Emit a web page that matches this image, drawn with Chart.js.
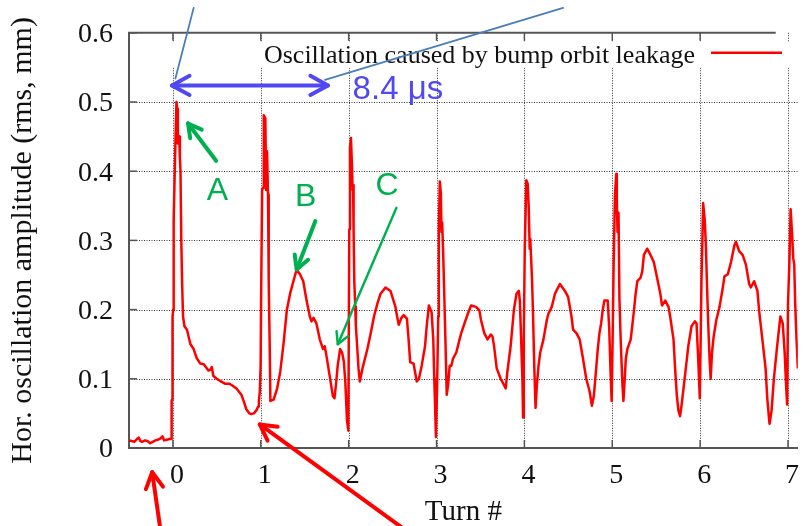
<!DOCTYPE html>
<html><head><meta charset="utf-8">
<script src="https://cdn.jsdelivr.net/npm/chart.js@4.4.0/dist/chart.umd.min.js"></script>
<style>html,body{margin:0;padding:0;background:#fff;overflow:hidden}canvas{display:block}</style>
</head><body>
<canvas id="c" width="806" height="526"></canvas>
<script>
// ---- data ----
const turns = [
-0.50,-0.47,-0.44,-0.41,-0.39,-0.37,-0.35,-0.32,-0.29,-0.26,-0.23,-0.20,-0.17,-0.14,-0.12,-0.10,-0.07,-0.04,-0.02,
-0.015,-0.010,-0.007,-0.004,-0.003,0.003,0.005,0.012,0.019,0.030,0.040,0.050,0.056,0.065,0.072,0.079,0.086,0.095,0.105,0.115,0.131,
0.160,0.180,0.199,0.236,0.270,0.311,0.350,0.404,0.425,0.442,0.460,0.498,0.550,0.592,0.640,0.667,0.723,0.779,0.810,0.835,0.870,0.891,0.920,0.948,0.970,0.978,0.989,
0.998,1.004,1.015,1.026,1.034,1.052,1.060,1.071,1.082,1.090,1.101,1.109,1.146,1.184,1.221,1.258,1.296,1.333,1.371,1.408,1.446,1.483,1.521,1.558,1.577,1.600,1.633,1.671,1.708,1.727,1.745,1.783,1.820,1.839,1.858,1.876,1.903,1.925,1.945,1.962,1.981,1.996,
2.007,2.015,2.026,2.037,2.045,2.050,2.056,2.064,2.075,2.082,2.101,2.112,2.127,2.157,2.213,2.250,2.288,2.330,2.363,2.419,2.476,2.532,2.551,2.570,2.600,2.626,2.663,2.682,2.700,2.738,2.775,2.800,2.831,2.869,2.888,2.913,2.944,2.963,2.974,2.981,2.993,
3.007,3.019,3.026,3.037,3.049,3.056,3.064,3.075,3.086,3.101,3.116,3.131,3.150,3.169,3.187,3.225,3.262,3.281,3.318,3.356,3.393,3.449,3.487,3.506,3.543,3.580,3.618,3.637,3.655,3.685,3.730,3.768,3.787,3.806,3.843,3.880,3.910,3.936,3.948,3.963,3.978,3.985,
3.993,4.004,4.022,4.037,4.049,4.060,4.067,4.086,4.097,4.112,4.127,4.142,4.161,4.180,4.217,4.255,4.273,4.311,4.348,4.404,4.461,4.498,4.536,4.554,4.592,4.629,4.648,4.667,4.704,4.742,4.768,4.790,4.817,4.835,4.854,4.873,4.891,4.910,4.948,4.966,4.978,4.993,
5.004,5.015,5.030,5.045,5.052,5.060,5.071,5.082,5.097,5.116,5.127,5.142,5.154,5.172,5.210,5.247,5.266,5.285,5.322,5.341,5.360,5.397,5.435,5.472,5.510,5.547,5.566,5.603,5.640,5.659,5.697,5.715,5.734,5.753,5.772,5.790,5.828,5.865,5.902,5.940,5.959,5.978,5.996,
6.004,6.015,6.026,6.034,6.052,6.064,6.079,6.093,6.109,6.120,6.135,6.154,6.184,6.221,6.258,6.277,6.315,6.352,6.390,6.408,6.446,6.483,6.521,6.558,6.577,6.614,6.652,6.671,6.708,6.745,6.764,6.783,6.790,6.813,6.839,6.876,6.913,6.940,6.962,6.978,6.990,
7.000,7.015,7.030,7.045,7.060,7.071,7.082,7.097,7.112,7.130];
const amplitude = [
0.011,0.010,0.009,0.013,0.015,0.010,0.009,0.011,0.010,0.007,0.009,0.011,0.012,0.014,0.017,0.011,0.012,0.013,0.013,
0.068,0.070,0.105,0.110,0.190,0.200,0.300,0.330,0.390,0.450,0.500,0.490,0.440,0.440,0.450,0.420,0.400,0.300,0.236,0.190,0.176,
0.171,0.160,0.150,0.143,0.130,0.122,0.121,0.112,0.113,0.117,0.104,0.100,0.096,0.093,0.093,0.091,0.086,0.077,0.066,0.056,0.050,0.049,0.050,0.054,0.060,0.068,0.082,
0.120,0.223,0.373,0.376,0.481,0.476,0.373,0.429,0.366,0.241,0.152,0.068,0.070,0.085,0.110,0.150,0.199,0.223,0.241,0.258,0.251,0.241,0.213,0.190,0.183,0.188,0.180,0.157,0.143,0.147,0.135,0.105,0.075,0.072,0.095,0.120,0.143,0.138,0.125,0.095,0.040,0.025,
0.316,0.434,0.448,0.410,0.373,0.380,0.316,0.241,0.204,0.176,0.138,0.115,0.096,0.115,0.143,0.165,0.190,0.210,0.223,0.232,0.227,0.204,0.190,0.178,0.188,0.192,0.187,0.157,0.124,0.122,0.096,0.100,0.119,0.147,0.176,0.206,0.196,0.157,0.100,0.072,0.016,
0.091,0.190,0.312,0.385,0.368,0.312,0.326,0.284,0.232,0.157,0.077,0.091,0.119,0.119,0.129,0.138,0.157,0.166,0.180,0.194,0.206,0.204,0.199,0.185,0.166,0.157,0.164,0.161,0.147,0.115,0.100,0.091,0.086,0.110,0.147,0.199,0.223,0.227,0.213,0.157,0.096,0.044,
0.157,0.288,0.387,0.382,0.349,0.288,0.302,0.246,0.199,0.119,0.058,0.091,0.119,0.138,0.157,0.185,0.194,0.204,0.223,0.237,0.227,0.218,0.190,0.171,0.166,0.157,0.143,0.129,0.100,0.082,0.061,0.075,0.115,0.143,0.166,0.180,0.199,0.213,0.213,0.171,0.119,0.068,
0.157,0.260,0.363,0.396,0.359,0.312,0.340,0.213,0.152,0.091,0.068,0.100,0.129,0.143,0.157,0.199,0.223,0.241,0.246,0.255,0.279,0.288,0.279,0.269,0.246,0.223,0.206,0.213,0.204,0.190,0.157,0.115,0.077,0.054,0.046,0.063,0.105,0.147,0.176,0.183,0.180,0.129,0.072,
0.138,0.241,0.302,0.354,0.330,0.298,0.232,0.176,0.124,0.100,0.138,0.161,0.185,0.204,0.232,0.248,0.251,0.269,0.293,0.298,0.284,0.279,0.265,0.237,0.232,0.241,0.227,0.199,0.157,0.115,0.072,0.044,0.035,0.054,0.100,0.147,0.190,0.180,0.138,0.091,0.063,
0.208,0.265,0.345,0.312,0.274,0.265,0.208,0.157,0.115,0.090];
const xTickValues = [0,1,2,3,4,5,6,7];
const xTickLabels = ['0','1','2','3','4','5','6','7'];
const yTickValues = [0,0.1,0.2,0.3,0.4,0.5,0.6];
const yTickLabels = ['0','0.1','0.2','0.3','0.4','0.5','0.6'];
const seriesLabel = 'Oscillation caused by bump orbit leakage';
const xTitle = 'Turn #';
const yTitle = 'Hor. oscillation amplitude (rms, mm)';

// ---- overlay annotations (in data coordinates) ----
const BLUE = '#5048f2', STEEL = '#4a7ebb', GREEN = '#00b050', RED = '#ff0000';
const arrows = [
  {from:[-0.011,0.524], to:[1.764,0.524], color:BLUE, w:4, head:20, start:true, end:true},
  {from:[0.028,0.534], to:[0.236,0.636], color:STEEL, w:1.8, head:0},
  {from:[1.730,0.532], to:[4.44,0.636], color:STEEL, w:1.8, head:0},
  {from:[0.491,0.415], to:[0.172,0.469], color:GREEN, w:4, head:15, end:true},
  {from:[1.621,0.328], to:[1.408,0.258], color:GREEN, w:4, head:15, end:true},
  {from:[2.543,0.347], to:[1.876,0.150], color:GREEN, w:2.5, head:13, end:true},
  {from:[-0.146,-0.115], to:[-0.236,-0.035], color:RED, w:4, head:18, end:true},
  {from:[2.607,-0.115], to:[0.989,0.034], color:RED, w:4, head:18, end:true}
];
const labels = [
  {text:'8.4 μs', at:[2.045,0.504], color:BLUE, size:33, align:'left'},
  {text:'A', at:[0.506,0.359], color:GREEN, size:32, align:'center'},
  {text:'B', at:[1.511,0.349], color:GREEN, size:32, align:'center'},
  {text:'C', at:[2.438,0.366], color:GREEN, size:32, align:'center'}
];

const SERIF = "'Liberation Serif', 'Times New Roman', serif";
const SANS = "'Liberation Sans', Arial, sans-serif";
const AXIS = '#555';
const GRID = '#333';

function drawArrow(ctx, x1, y1, x2, y2, a) {
  ctx.save();
  ctx.strokeStyle = a.color; ctx.lineWidth = a.w; ctx.lineCap = 'round'; ctx.lineJoin = 'round';
  ctx.beginPath(); ctx.moveTo(x1, y1); ctx.lineTo(x2, y2); ctx.stroke();
  const head = (tx, ty, fx, fy) => {
    const ang = Math.atan2(ty - fy, tx - fx), s = 0.5, L = a.head;
    ctx.beginPath();
    ctx.moveTo(tx - L * Math.cos(ang - s), ty - L * Math.sin(ang - s));
    ctx.lineTo(tx, ty);
    ctx.lineTo(tx - L * Math.cos(ang + s), ty - L * Math.sin(ang + s));
    ctx.stroke();
  };
  if (a.end) head(x2, y2, x1, y1);
  if (a.start) head(x1, y1, x2, y2);
  ctx.restore();
}

const overlay = {
  id: 'overlay',
  beforeDatasetsDraw(chart) {
    const {ctx, chartArea: ca} = chart;
    const xs = chart.scales.x, ys = chart.scales.y;
    ctx.save();
    // dotted grid at the tick positions
    ctx.strokeStyle = GRID; ctx.lineWidth = 1; ctx.setLineDash([1, 1.5]);
    xTickValues.forEach(v => {
      const px = Math.round(xs.getPixelForValue(v)) + 0.5;
      ctx.beginPath(); ctx.moveTo(px, ca.top); ctx.lineTo(px, ca.bottom); ctx.stroke();
    });
    yTickValues.forEach(v => {
      if (v <= 0 || v >= 0.6) return;
      const py = Math.round(ys.getPixelForValue(v)) + 0.5;
      ctx.beginPath(); ctx.moveTo(ca.left, py); ctx.lineTo(ca.right, py); ctx.stroke();
    });
    ctx.setLineDash([]);
    // key box blanks the grid behind it
    ctx.fillStyle = '#fff';
    ctx.fillRect(ca.left + 2, ca.top + 9, ca.right - ca.left, 26);
    ctx.restore();
  },
  afterDraw(chart) {
    const {ctx, chartArea: ca} = chart;
    const xs = chart.scales.x, ys = chart.scales.y;
    ctx.save();
    // top border and inward tick marks (gnuplot style)
    const topEnd = xs.getPixelForValue(6.86);
    ctx.strokeStyle = AXIS; ctx.lineWidth = 2;
    ctx.beginPath(); ctx.moveTo(ca.left - 1, ca.top); ctx.lineTo(topEnd, ca.top); ctx.stroke();
    ctx.lineWidth = 1.5;
    xTickValues.forEach(v => {
      const px = xs.getPixelForValue(v);
      ctx.beginPath(); ctx.moveTo(px, ca.bottom); ctx.lineTo(px, ca.bottom - 8); ctx.stroke();
      if (px < topEnd) { ctx.beginPath(); ctx.moveTo(px, ca.top); ctx.lineTo(px, ca.top + 8); ctx.stroke(); }
    });
    yTickValues.forEach(v => {
      const py = ys.getPixelForValue(v);
      ctx.beginPath(); ctx.moveTo(ca.left, py); ctx.lineTo(ca.left + 8, py); ctx.stroke();
    });
    // key
    ctx.font = "26px " + SERIF; ctx.fillStyle = '#111'; ctx.textAlign = 'right'; ctx.textBaseline = 'alphabetic';
    ctx.fillText(seriesLabel, ca.left + 566, ca.top + 30);
    ctx.strokeStyle = RED; ctx.lineWidth = 2.5;
    ctx.beginPath(); ctx.moveTo(ca.left + 582, ca.top + 20); ctx.lineTo(ca.left + 653, ca.top + 20); ctx.stroke();
    ctx.restore();
    // annotations
    arrows.forEach(a => drawArrow(ctx,
      xs.getPixelForValue(a.from[0]), ys.getPixelForValue(a.from[1]),
      xs.getPixelForValue(a.to[0]), ys.getPixelForValue(a.to[1]), a));
    labels.forEach(l => {
      ctx.save();
      ctx.font = l.size + "px " + SANS; ctx.fillStyle = l.color; ctx.textAlign = l.align; ctx.textBaseline = 'alphabetic';
      ctx.fillText(l.text, xs.getPixelForValue(l.at[0]), ys.getPixelForValue(l.at[1]));
      ctx.restore();
    });
  }
};

new Chart(document.getElementById('c'), {
  type: 'line',
  data: {
    datasets: [{
      label: seriesLabel,
      data: turns.map((t, i) => ({x: t, y: amplitude[i]})),
      borderColor: RED, borderWidth: 2.5, pointRadius: 0, tension: 0,
      borderJoinStyle: 'round', fill: false
    }]
  },
  options: {
    responsive: false, animation: false, devicePixelRatio: 1, events: [],
    layout: {padding: {left: 0, right: 0, top: 22, bottom: 0}},
    plugins: {legend: {display: false}, tooltip: {enabled: false}},
    scales: {
      x: {
        type: 'linear', min: -0.5, max: 7.112,
        afterBuildTicks: s => { s.ticks = xTickValues.map(v => ({value: v})); },
        afterFit: s => { s.height = 78; },
        grid: {display: false, drawTicks: false},
        border: {display: true, color: AXIS, width: 2},
        ticks: {font: {family: SERIF, size: 28}, color: '#111', padding: 11, labelOffset: 4,
                maxRotation: 0, autoSkip: false, callback: (v, i) => xTickLabels[i]},
        title: {display: true, text: xTitle, color: '#111', font: {family: SERIF, size: 29},
                padding: {top: 0, bottom: -4}}
      },
      y: {
        min: 0, max: 0.6,
        afterBuildTicks: s => { s.ticks = yTickValues.map(v => ({value: v})); },
        afterFit: s => { s.width = 129; },
        grid: {display: false, drawTicks: false},
        border: {display: true, color: AXIS, width: 2},
        ticks: {font: {family: SERIF, size: 28}, color: '#111', padding: 16, labelOffset: 2,
                autoSkip: false, callback: (v, i) => yTickLabels[i]},
        title: {display: true, text: yTitle, color: '#111', font: {family: SERIF, size: 30},
                padding: {top: 5, bottom: 0}}
      }
    }
  },
  plugins: [overlay]
});
</script>
</body></html>
